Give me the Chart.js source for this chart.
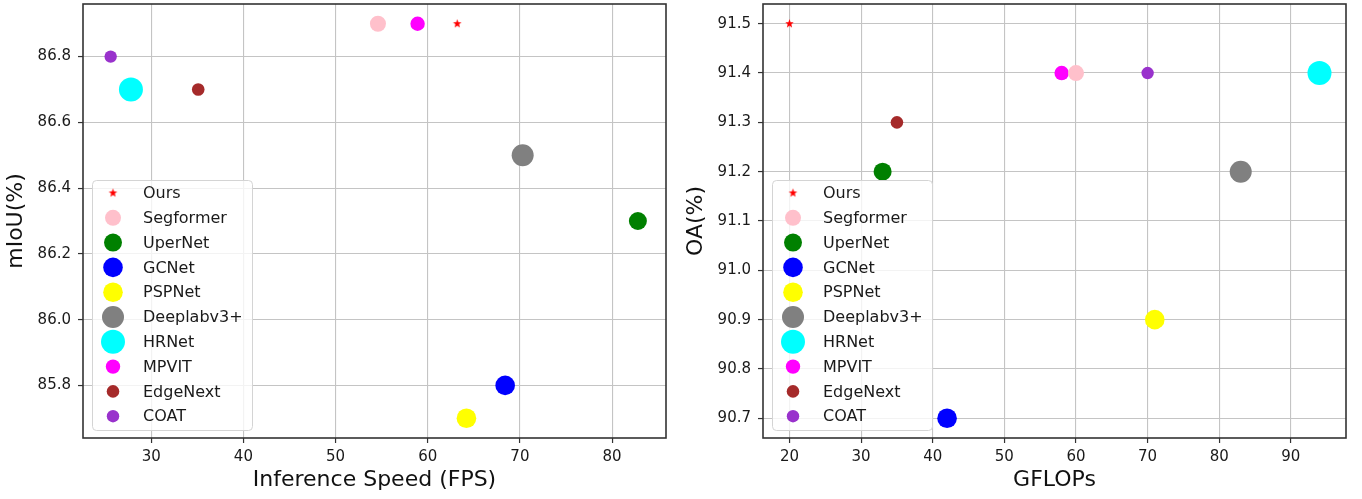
<!DOCTYPE html>
<html>
<head>
<meta charset="utf-8">
<script src="https://cdn.jsdelivr.net/npm/chart.js@4.4.1/dist/chart.umd.min.js"></script>
<style>
  body { margin: 0; background: #fff; }
  #wrap { position: relative; width: 1362px; height: 499px; overflow: hidden; }
  canvas { position: absolute; top: 0; }
</style>
</head>
<body>
<div id="wrap">
  <canvas id="speed" width="681" height="499" style="left:0"></canvas>
  <canvas id="flops" width="681" height="499" style="left:680px"></canvas>
</div>
<script>
// Values.
const models = ["Ours", "Segformer", "UperNet", "GCNet", "PSPNet", "Deeplabv3+", "HRNet", "MPVIT", "EdgeNext", "COAT"];
const fps    = [63.2, 54.6, 82.8, 68.4, 64.2, 70.3, 27.8, 58.9, 35.1, 25.6];
const miou   = [86.9, 86.9, 86.3, 85.8, 85.7, 86.5, 86.7, 86.9, 86.7, 86.8];
const gflops = [20, 60, 33, 42, 71, 83, 94, 58, 35, 70];
const oa     = [91.5, 91.4, 91.2, 90.7, 90.9, 91.2, 91.4, 91.4, 91.3, 91.4];

const fpsTicks    = [30, 40, 50, 60, 70, 80];
const miouTicks   = [85.8, 86.0, 86.2, 86.4, 86.6, 86.8];
const gflopsTicks = [20, 30, 40, 50, 60, 70, 80, 90];
const oaTicks     = [90.7, 90.8, 90.9, 91.0, 91.1, 91.2, 91.3, 91.4, 91.5];

// marker look per model (matplotlib named colours)
const markerColor = {
  "Ours": "#ff0000", "Segformer": "#ffc0cb", "UperNet": "#008000", "GCNet": "#0000ff",
  "PSPNet": "#ffff00", "Deeplabv3+": "#808080", "HRNet": "#00ffff", "MPVIT": "#ff00ff",
  "EdgeNext": "#a52a2a", "COAT": "#9932cc"
};
const markerRadius = {
  "Ours": 4.5, "Segformer": 8, "UperNet": 9, "GCNet": 9.8, "PSPNet": 9.8, "Deeplabv3+": 11,
  "HRNet": 12, "MPVIT": 7.2, "EdgeNext": 6.3, "COAT": 6.2
};

Chart.defaults.font.family = "'DejaVu Sans', sans-serif";
Chart.defaults.color = "#1a1a1a";

// matplotlib '*' is a filled star, Chart.js 'star' is only stroked
function filledStar(r, color) {
  const s = Math.ceil(r * 2 + 2);
  const c = document.createElement("canvas");
  c.width = c.height = s;
  const g = c.getContext("2d");
  g.fillStyle = color;
  g.beginPath();
  for (let i = 0; i < 10; i++) {
    const a = -Math.PI / 2 + i * Math.PI / 5;
    const rr = i % 2 ? r * 0.42 : r;
    g.lineTo(s / 2 + rr * Math.cos(a), s / 2 + rr * Math.sin(a));
  }
  g.closePath();
  g.fill();
  return c;
}

// legend box inside the plot (lower left, like matplotlib) and the black frame
const frameAndLegend = {
  id: "frameAndLegend",
  afterDraw(chart) {
    const { ctx, chartArea: a } = chart;
    ctx.save();
    const lx = a.left + 9, ly = 180, lw = 160, lh = 250;
    ctx.fillStyle = "rgba(255,255,255,0.8)";
    ctx.strokeStyle = "#d4d4d4";
    ctx.lineWidth = 1;
    ctx.beginPath();
    if (ctx.roundRect) ctx.roundRect(lx + 0.5, ly + 0.5, lw, lh, 4);
    else ctx.rect(lx + 0.5, ly + 0.5, lw, lh);
    ctx.fill();
    ctx.stroke();

    ctx.font = "16px 'DejaVu Sans'";
    ctx.textBaseline = "middle";
    chart.data.datasets.forEach((ds, i) => {
      const cx = lx + 21, cy = ly + 13 + i * 24.8;
      if (ds.pointStyle instanceof HTMLCanvasElement) {
        const img = ds.pointStyle;
        ctx.drawImage(img, cx - img.width / 2, cy - img.height / 2);
      } else {
        ctx.fillStyle = ds.backgroundColor;
        ctx.beginPath();
        ctx.arc(cx, cy, ds.pointRadius, 0, Math.PI * 2);
        ctx.fill();
      }
      ctx.fillStyle = "#1a1a1a";
      ctx.fillText(ds.label, lx + 51, cy + 1);
    });

    ctx.strokeStyle = "#333";
    ctx.lineWidth = 1.6;
    ctx.strokeRect(a.left, a.top, a.right - a.left, a.bottom - a.top);
    ctx.restore();
  }
};

function axis(ticks, range, title, horizontal, fmt) {
  return {
    type: "linear",
    min: range[0],
    max: range[1],
    z: 1,
    afterBuildTicks: s => { s.ticks = ticks.map(v => ({ value: v })); },
    afterFit: s => {
      // fixed axis boxes; no extra room for end labels
      if (horizontal) { s.height = 61; s.paddingLeft = 0; s.paddingRight = 0; }
      else { s.width = 83; s.paddingTop = 0; s.paddingBottom = 0; }
    },
    ticks: {
      color: "#1a1a1a",
      font: { size: 15 },
      padding: horizontal ? 5 : 7,
      callback: v => fmt(v)
    },
    grid: {
      color: "#c4c4c4",
      lineWidth: 1.1,
      tickLength: 5,
      tickColor: "#333",
      tickWidth: 1.2
    },
    border: { display: false },
    title: {
      display: true,
      text: title,
      color: "#111",
      font: { size: 22 },
      padding: horizontal ? { top: 0, bottom: 6 } : { top: 3, bottom: 0 }
    }
  };
}

function drawPanel(id, xs, ys, xTicks, yTicks, xRange, yRange, xTitle, yTitle) {
  const datasets = models.map((m, i) => {
    const ds = {
      label: m,
      data: [{ x: xs[i], y: ys[i] }],
      backgroundColor: markerColor[m],
      borderWidth: 0,
      pointRadius: markerRadius[m],
      pointHoverRadius: markerRadius[m]
    };
    if (m === "Ours") ds.pointStyle = filledStar(markerRadius[m], markerColor[m]);
    return ds;
  });

  new Chart(document.getElementById(id), {
    type: "scatter",
    data: { datasets },
    options: {
      responsive: false,
      animation: false,
      devicePixelRatio: 1,
      events: [],
      layout: { autoPadding: false, padding: { top: 4, right: 15, left: 0, bottom: 0 } },
      plugins: { legend: { display: false }, tooltip: { enabled: false } },
      scales: {
        x: axis(xTicks, xRange, xTitle, true, v => String(v)),
        y: axis(yTicks, yRange, yTitle, false, v => v.toFixed(1))
      }
    },
    plugins: [frameAndLegend]
  });
}

drawPanel("speed", fps, miou, fpsTicks, miouTicks, [22.6, 85.85], [85.64, 86.96], "Inference Speed (FPS)", "mIoU(%)");
drawPanel("flops", gflops, oa, gflopsTicks, oaTicks, [16.3, 97.7], [90.66, 91.54], "GFLOPs", "OA(%)");
</script>
</body>
</html>
